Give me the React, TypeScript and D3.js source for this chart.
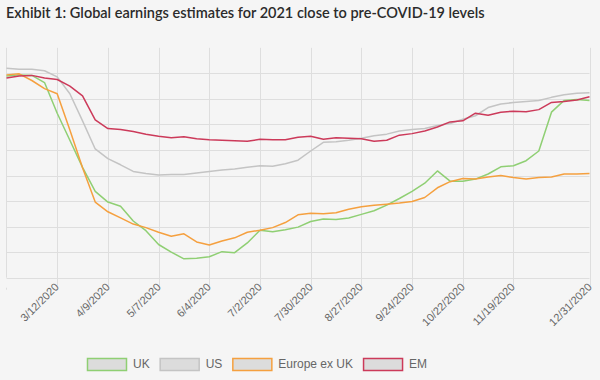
import React from "react";
import * as d3 from "d3";

const dates = [
  "2/13/2020", "2/20/2020", "2/27/2020", "3/5/2020", "3/12/2020", "3/19/2020", "3/26/2020", "4/2/2020",
  "4/9/2020", "4/16/2020", "4/23/2020", "4/30/2020", "5/7/2020", "5/14/2020", "5/21/2020", "5/28/2020",
  "6/4/2020", "6/11/2020", "6/18/2020", "6/25/2020", "7/2/2020", "7/9/2020", "7/16/2020", "7/23/2020",
  "7/30/2020", "8/6/2020", "8/13/2020", "8/20/2020", "8/27/2020", "9/3/2020", "9/10/2020", "9/17/2020",
  "9/24/2020", "10/1/2020", "10/8/2020", "10/15/2020", "10/22/2020", "10/29/2020", "11/5/2020", "11/12/2020",
  "11/19/2020", "11/26/2020", "12/3/2020", "12/10/2020", "12/17/2020", "12/24/2020", "12/31/2020",
];

const ukValues = [
  99.5, 99.7, 99.6, 98.2, 92.2, 86.9, 81.6, 76.9,
  74.8, 74.0, 71.1, 69.2, 66.5, 65.0, 63.7, 63.8,
  64.1, 65.1, 64.9, 66.8, 69.3, 69.0, 69.4, 69.9,
  71.0, 71.5, 71.4, 71.7, 72.4, 73.1, 74.2, 75.5,
  76.9, 78.5, 80.9, 78.9, 78.9, 79.3, 80.3, 81.7,
  81.9, 82.9, 84.8, 92.4, 94.7, 94.9, 94.7,
];

const usValues = [
  101.0, 100.8, 100.8, 100.5, 99.3, 96.0, 90.7, 85.2,
  83.3, 82.1, 80.8, 80.4, 80.1, 80.2, 80.2, 80.5,
  80.8, 81.1, 81.3, 81.6, 81.9, 81.8, 82.3, 83.0,
  84.8, 86.5, 86.6, 86.9, 87.3, 87.8, 88.1, 88.7,
  89.0, 89.2, 89.8, 90.2, 91.0, 91.7, 93.3, 94.0,
  94.3, 94.5, 94.7, 95.3, 95.8, 96.1, 96.2,
];

const europeValues = [
  99.7, 99.9, 98.6, 97.0, 96.0, 88.9, 81.5, 74.8,
  72.9, 71.7, 70.5, 69.8, 68.9, 68.1, 68.6, 67.0,
  66.4, 67.2, 67.8, 68.9, 69.3, 69.8, 70.8, 72.3,
  72.6, 72.5, 72.7, 73.4, 73.9, 74.2, 74.4, 74.6,
  74.9, 75.7, 77.6, 78.8, 79.4, 79.3, 79.7, 80.0,
  79.6, 79.3, 79.6, 79.7, 80.3, 80.3, 80.4,
];

const emValues = [
  99.1, 99.5, 99.6, 99.1, 98.8, 97.5, 95.6, 90.9,
  89.2, 89.0, 88.6, 88.1, 87.7, 87.4, 87.6, 87.2,
  87.0, 86.9, 86.8, 86.7, 87.1, 87.0, 87.0, 87.5,
  87.7, 87.1, 87.4, 87.3, 87.2, 86.7, 86.9, 87.9,
  88.2, 88.7, 89.5, 90.5, 90.7, 92.2, 91.8, 92.4,
  92.6, 92.5, 92.9, 94.3, 94.5, 94.8, 95.4,
];

const tickLabels = [
  "3/12/2020", "4/9/2020", "5/7/2020", "6/4/2020", "7/2/2020", "7/30/2020",
  "8/27/2020", "9/24/2020", "10/22/2020", "11/19/2020", "12/31/2020",
];

const gridValues = [60, 65, 70, 75, 80, 85, 90, 95, 100];

const seriesNames = ["UK", "US", "Europe ex UK", "EM"];
const seriesColors = ["#8fcf73", "#c4c4c4", "#f5a03f", "#cc3a5a"];

const TITLE = "Exhibit 1: Global earnings estimates for 2021 close to pre-COVID-19 levels";

function measure(text: string, font: string): number {
  if (typeof document === "undefined") return text.length * 6.5;
  const c = document.createElement("canvas");
  const ctx = c.getContext("2d");
  if (!ctx) return text.length * 6.5;
  ctx.font = font;
  return ctx.measureText(text).width;
}

export default function App() {
  const W = 600;
  const H = 380;
  const parse = d3.timeParse("%m/%d/%Y");
  const x = d3
    .scaleTime()
    .domain([parse("2/13/2020") as Date, parse("12/31/2020") as Date])
    .range([6.5, 589.5]);
  const y = d3.scaleLinear().domain([60, 105]).range([277.7, 47.8]);
  const parsedDates = dates.map((d) => parse(d) as Date);
  const allSeries = [ukValues, usValues, europeValues, emValues];

  const line = d3
    .line<number>()
    .x((_, i) => x(parsedDates[i]))
    .y((d) => y(d))
    .curve(d3.curveLinear);

  const legendFont = "12px 'Liberation Sans', Arial, sans-serif";
  let lx = 87.5;
  const legendItems = seriesNames.map((name, i) => {
    const item = { name, color: seriesColors[i], x: lx };
    lx += 40 + 6 + measure(name, legendFont) + 10;
    return item;
  });

  const [x0, x1] = x.range();

  return (
    <svg
      width={W}
      height={H}
      style={{ position: "absolute", left: 0, top: 0, display: "block" }}
      fontFamily="'Liberation Sans', Arial, sans-serif"
    >
      <rect x={0} y={0} width={W} height={H} fill="#f5f5f5" />
      <text
        x={6}
        y={18}
        fontFamily="Lato, 'Open Sans', sans-serif"
        fontWeight={600}
        fontSize={14.5}
        fill="#2b2b2b"
      >
        {TITLE}
      </text>

      {/* horizontal grid */}
      {gridValues.map((v) => (
        <line
          key={"h" + v}
          x1={x0}
          x2={x1}
          y1={Math.round(y(v)) + 0.5}
          y2={Math.round(y(v)) + 0.5}
          stroke="#dedede"
          strokeWidth={1}
        />
      ))}
      {/* left edge */}
      <line x1={x0} x2={x0} y1={y(105)} y2={y(60)} stroke="#dedede" />
      <line x1={x0} x2={x0} y1={y(60) + 10} y2={y(60) + 12} stroke="#dedede" />

      {/* vertical grid & ticks */}
      {tickLabels.map((t) => {
        const px = Math.round(x(parse(t) as Date)) + 0.5;
        return (
          <g key={"v" + t}>
            <line x1={px} x2={px} y1={y(105)} y2={y(60) + 8} stroke="#dedede" />
            <text
              transform={`translate(${px + 2},${y(60) + 10}) rotate(-45)`}
              textAnchor="end"
              fontSize={11}
              fill="#666"
            >
              {t}
            </text>
          </g>
        );
      })}

      {/* series lines */}
      {allSeries.map((vals, i) => (
        <path
          key={seriesNames[i]}
          d={line(vals) || ""}
          fill="none"
          stroke={seriesColors[i]}
          strokeWidth={1.5}
          strokeLinejoin="round"
        />
      ))}

      {/* legend */}
      {legendItems.map((it) => (
        <g key={"l" + it.name}>
          <rect
            x={it.x}
            y={358.5}
            width={39}
            height={12}
            fill="#dcdcdc"
            stroke={it.color}
            strokeWidth={1.5}
          />
          <text x={it.x + 45.5} y={368} fontSize={12} fill="#666">
            {it.name}
          </text>
        </g>
      ))}
    </svg>
  );
}
